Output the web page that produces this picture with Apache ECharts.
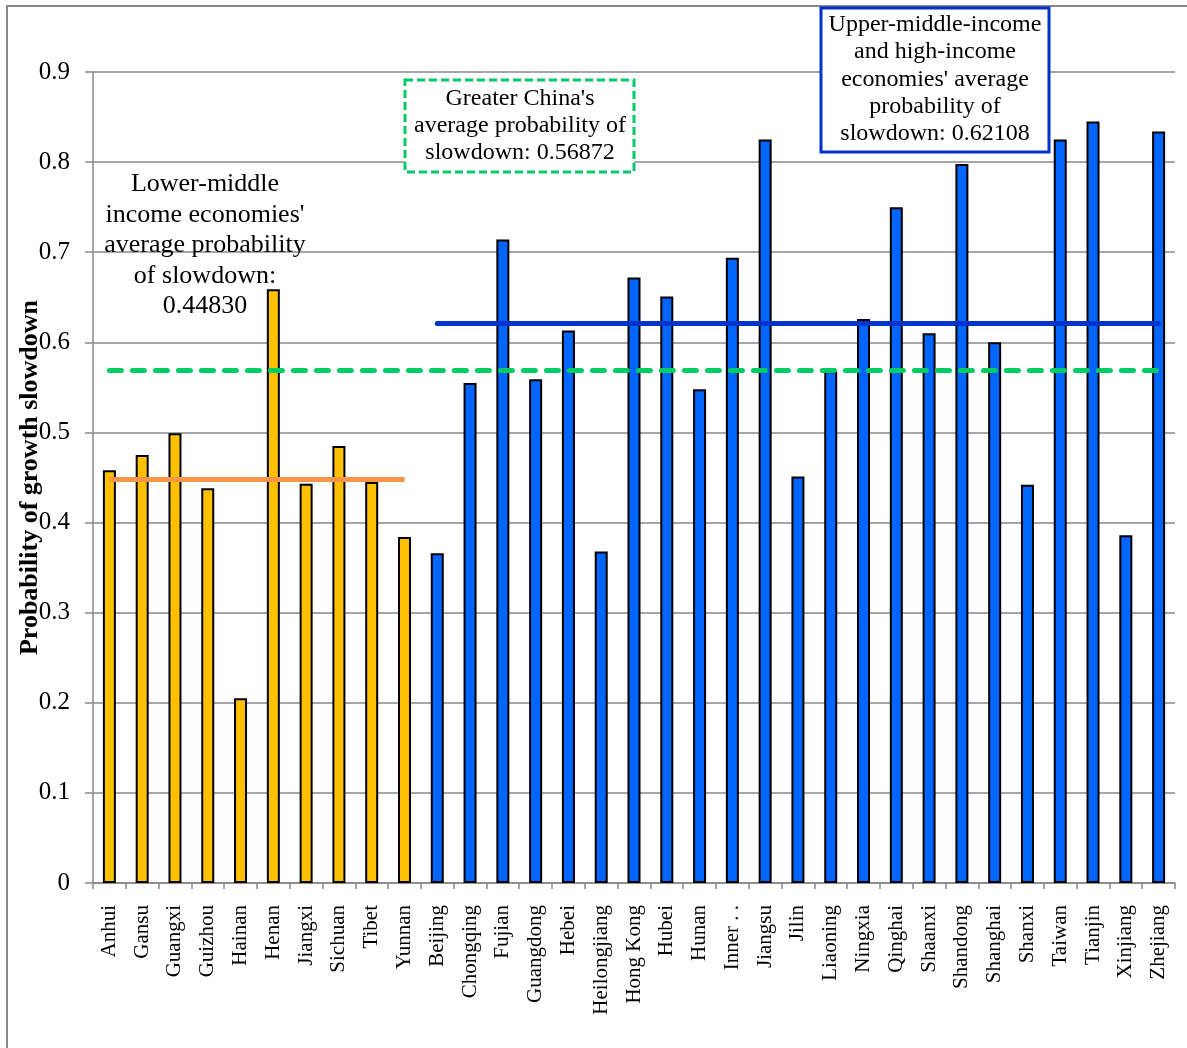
<!DOCTYPE html>
<html><head><meta charset="utf-8">
<script src="https://cdn.jsdelivr.net/npm/echarts@6/dist/echarts.min.js"></script>
<style>html,body{margin:0;padding:0;background:#fff}#c{width:1187px;height:1048px}</style>
</head><body><div id="c"></div>
<script>
const categories = ['Anhui','Gansu','Guangxi','Guizhou','Hainan','Henan','Jiangxi','Sichuan','Tibet','Yunnan',
  'Beijing','Chongqing','Fujian','Guangdong','Hebei','Heilongjiang','Hong Kong','Hubei','Hunan','Inner . .',
  'Jiangsu','Jilin','Liaoning','Ningxia','Qinghai','Shaanxi','Shandong','Shanghai','Shanxi','Taiwan','Tianjin','Xinjiang','Zhejiang'];
const groups = ['L','L','L','L','L','L','L','L','L','L',
  'U','U','U','U','U','U','U','U','U','U','U','U','U','U','U','U','U','U','U','U','U','U','U'];
const values = [0.458,0.475,0.499,0.438,0.205,0.659,0.443,0.485,0.445,0.384,
  0.366,0.555,0.714,0.559,0.613,0.368,0.672,0.651,0.548,0.694,
  0.825,0.451,0.568,0.626,0.750,0.610,0.798,0.600,0.442,0.825,0.845,0.386,0.834];
const lowerAvg = 0.44830;
const chinaAvg = 0.56872;
const upperAvg = 0.62108;
const yTicks = [0,0.1,0.2,0.3,0.4,0.5,0.6,0.7,0.8,0.9];

const serif = '"Liberation Serif","DejaVu Serif",serif';
const chart = echarts.init(document.getElementById('c'));
const firstL = categories[groups.indexOf('L')];
const lastL = categories[groups.lastIndexOf('L')];
const firstU = categories[groups.indexOf('U')];
const last = categories[categories.length-1];

chart.setOption({
  animation:false,
  grid:{left:93,right:12,top:72,bottom:165,containLabel:false,outerBoundsMode:'none'},
  xAxis:{type:'category',data:categories,
    axisLine:{lineStyle:{color:'#888',width:1.5}},
    axisTick:{show:true,length:6,lineStyle:{color:'#888',width:1.5}},
    axisLabel:{rotate:90,interval:0,fontFamily:serif,fontSize:21,color:'#000',margin:22}},
  yAxis:{type:'value',min:0,max:0.9,interval:0.1,
    name:'Probability of growth slowdown',nameLocation:'middle',nameGap:50,nameMoveOverlap:false,
    nameTextStyle:{fontFamily:serif,fontSize:26,fontWeight:'bold',color:'#000'},
    axisLine:{show:true,lineStyle:{color:'#888',width:1.5}},
    axisTick:{show:true,length:8,lineStyle:{color:'#888',width:1.5}},
    splitLine:{lineStyle:{color:'#888',width:1.5}},
    axisLabel:{fontFamily:serif,fontSize:25,color:'#000',margin:23,
      formatter:v=>{const t=yTicks.find(x=>Math.abs(x-v)<1e-9);return t===0?'0':String(t);}}},
  series:[{
    type:'bar',data:values,barWidth:13,
    itemStyle:{color:p=>groups[p.dataIndex]==='L'?'#FFC000':'#0066FF',borderColor:'#000',borderWidth:2},
    markLine:{silent:true,symbol:['none','none'],label:{show:false},
      data:[
        [{coord:[firstL,lowerAvg],lineStyle:{color:'#F79646',width:5,type:'solid'}},{coord:[lastL,lowerAvg]}],
        [{coord:[firstL,chinaAvg],lineStyle:{color:'#00CC66',width:5,type:[12,11],cap:'round'}},{coord:[last,chinaAvg]}],
        [{coord:[firstU,upperAvg],lineStyle:{color:'#0033CC',width:5,type:'solid',cap:'round'}},{coord:[last,upperAvg]}]
      ]}
  }],
  graphic:[
    {type:'polyline',shape:{points:[[7,1048],[7,6],[1187,6]]},style:{stroke:'#888',lineWidth:2,fill:null},z:10},
    {type:'text',x:205,y:169,z:20,style:{text:"Lower-middle\nincome economies'\naverage probability\nof slowdown:\n0.44830",
      fontFamily:serif,fontSize:26,lineHeight:30.5,fill:'#000',align:'center',verticalAlign:'top'}},
    {type:'rect',shape:{x:405,y:80,width:229,height:92},style:{fill:'#fff',stroke:'#00CC66',lineWidth:3,lineDash:[8,4]},z:20},
    {type:'text',x:520,y:85,z:21,style:{text:"Greater China's\naverage probability of\nslowdown: 0.56872",
      fontFamily:serif,fontSize:24,lineHeight:27,fill:'#000',align:'center',verticalAlign:'top'}},
    {type:'rect',shape:{x:821,y:8,width:228,height:144},style:{fill:'#fff',stroke:'#0033CC',lineWidth:3},z:20},
    {type:'text',x:935,y:11,z:21,style:{text:"Upper-middle-income\nand high-income\neconomies' average\nprobability of\nslowdown: 0.62108",
      fontFamily:serif,fontSize:24,lineHeight:27.3,fill:'#000',align:'center',verticalAlign:'top'}}
  ]
});
</script></body></html>
